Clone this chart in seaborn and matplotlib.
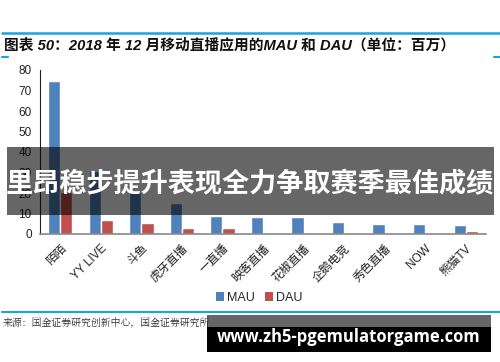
import matplotlib
matplotlib.use("Agg")
import matplotlib.pyplot as plt
import seaborn as sns
import pandas as pd
from matplotlib.patches import Rectangle, Patch
from matplotlib.lines import Line2D

categories = ["陌陌", "YY LIVE", "斗鱼", "虎牙直播", "一直播", "映客直播", "花椒直播", "企鹅电竞", "秀色直播", "NOW", "熊猫TV"]
mau = [74.5, 30.5, 20.5, 15.3, 8.8, 8.2, 8.2, 5.8, 4.7, 4.7, 4.3]
dau = [20.5, 6.9, 5.2, 2.7, 2.8, 0.7, 0.7, 0.2, 0.1, 0.1, 1.4]
series = ["MAU", "DAU"]
yticks = [0, 10, 20, 30, 40, 50, 60, 70, 80]
title = "图表 50：2018 年 12 月移动直播应用的MAU 和 DAU（单位：百万）"
source = "来源：国金证券研究创新中心，国金证券研究所"
overlay_text = "里昂稳步提升表现全力争取赛季最佳成绩"
watermark = "www.zh5-pgemulatorgame.com"

df = pd.DataFrame({
    "app": categories * 2,
    "value": mau + dau,
    "series": [series[0]] * len(categories) + [series[1]] * len(categories),
})

sns.set_theme(style="white")
plt.rcParams['font.family'] = ['Noto Sans CJK SC', 'DejaVu Sans']

W, H = 500, 362
fig = plt.figure(figsize=(5.0, 3.62), dpi=100)
fig.patch.set_facecolor("white")

def fx(x):
    return x / W

def fy(y):
    return 1 - y / H

ax = fig.add_axes([fx(40), fy(234), fx(486) - fx(40), fy(70) - fy(234)])
colors = {"MAU": "#4f81bd", "DAU": "#c0504d"}
sns.barplot(data=df, x="app", y="value", hue="series", palette=colors,
            width=0.6, gap=0, ax=ax, legend=False, saturation=1)
ax.set_ylim(0, 80)
ax.set_xlim(-0.5, len(categories) - 0.5)
ax.set_yticks(yticks)
ax.set_yticklabels([str(t) for t in yticks], fontsize=8.5,
                   family=['Liberation Sans', 'Noto Sans CJK SC'], color="#222222")
ax.set_xticks(range(len(categories)))
ax.set_xticklabels(categories, rotation=45, ha="right", rotation_mode="anchor",
                   fontsize=8.5, family=['Liberation Sans', 'Noto Sans CJK SC'], color="#222222")
ax.tick_params(axis="y", length=0, pad=6)
ax.tick_params(axis="x", length=0, pad=6)
ax.set_xlabel("")
ax.set_ylabel("")
for s in ["top", "right"]:
    ax.spines[s].set_visible(False)
ax.spines["left"].set_color("#222222")
ax.spines["left"].set_linewidth(0.8)
ax.spines["bottom"].set_color("#888888")
ax.spines["bottom"].set_linewidth(1.2)
ax.set_facecolor("white")

# legend
handles = [Patch(facecolor=colors[s], edgecolor="none") for s in series]
fig.legend(handles, series, loc="center", bbox_to_anchor=(fx(259), fy(298)), ncol=2,
           frameon=False, handlelength=0.7, handleheight=0.7,
           handletextpad=0.2, columnspacing=0.8,
           prop={'family': ['Liberation Sans', 'Noto Sans CJK SC'], 'size': 9})

# header lines & title
fig.add_artist(Line2D([fx(2), fx(500)], [fy(33), fy(33)], color="#1aa3dc", lw=1.8))
fig.add_artist(Line2D([fx(2), fx(8)], [fy(57), fy(57)], color="#1aa3dc", lw=1.5))
fig.add_artist(Line2D([fx(494), fx(500)], [fy(57), fy(57)], color="#1aa3dc", lw=1.5))
fig.text(fx(4), fy(45), title, fontsize=10.6, fontweight="heavy", style="italic",
         family=['Liberation Sans', 'Noto Sans CJK SC'], va="center", ha="left", color="#111111")

# footer
fig.add_artist(Line2D([fx(2), fx(500)], [fy(312), fy(312)], color="#1aa3dc", lw=1.5))
fig.text(fx(3), fy(323), source, fontsize=7.1, va="center", ha="left", color="#333333",
         family=['Noto Serif CJK SC', 'Noto Sans CJK SC'])

# overlay band
fig.add_artist(Rectangle((fx(7), fy(215)), fx(494) - fx(7), fy(147) - fy(215),
                         transform=fig.transFigure, facecolor="black", alpha=0.6,
                         edgecolor="none", zorder=10))
fig.text(fx(250), fy(184), overlay_text, fontsize=19.5, fontweight="bold", color="white",
         ha="center", va="center", zorder=11)

# watermark box
fig.add_artist(Rectangle((fx(207), fy(327)), fx(491) - fx(207), fy(315) - fy(327),
                         transform=fig.transFigure, facecolor="black", alpha=0.6,
                         edgecolor="none", zorder=10))
fig.add_artist(Rectangle((fx(207), fy(352)), fx(491) - fx(207), fy(327) - fy(352),
                         transform=fig.transFigure, facecolor="black",
                         edgecolor="none", zorder=10))
fig.text(fx(349), fy(337), watermark, fontsize=12, fontweight="bold", color="white",
         ha="center", va="center", zorder=11, family=['Open Sans', 'DejaVu Sans'])

fig.savefig("out.png", dpi=100)
